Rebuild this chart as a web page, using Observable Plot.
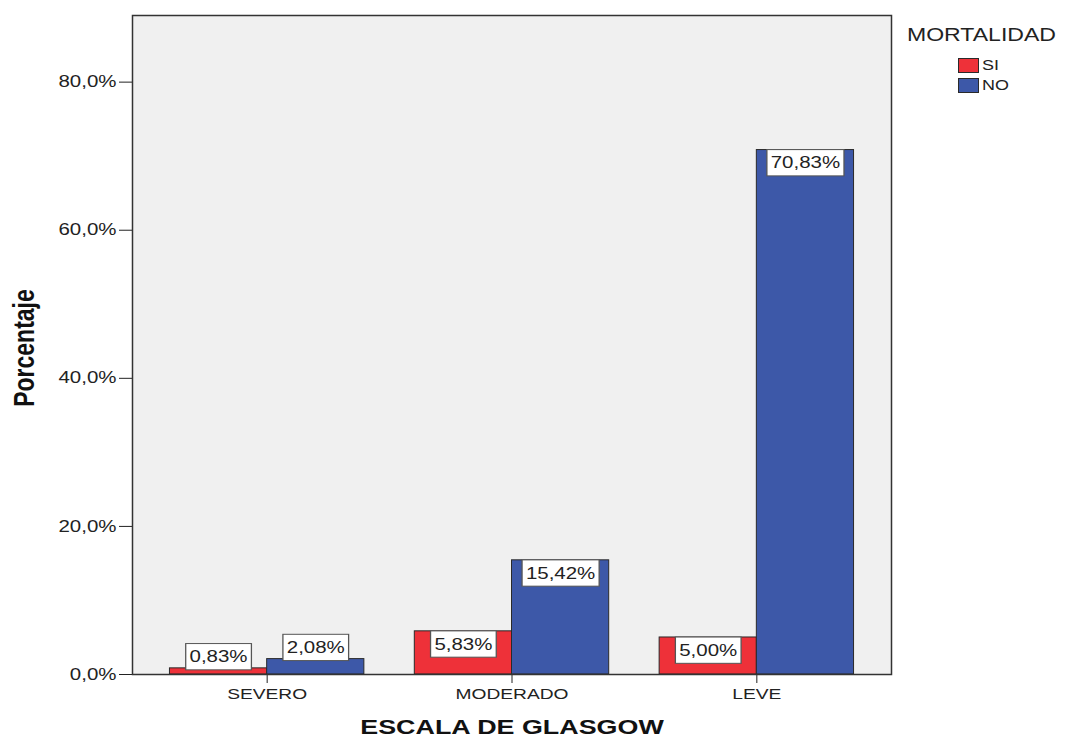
<!DOCTYPE html>
<html>
<head>
<meta charset="utf-8">
<script src="https://cdn.jsdelivr.net/npm/d3@7"></script>
<script src="https://cdn.jsdelivr.net/npm/@observablehq/plot@0.6"></script>
<style>
  body { margin: 0; background: #fff; }
  #chart { position: relative; width: 1067px; height: 738px; font-family: "Liberation Sans", Arial, sans-serif; color: #222; }
  #legend { position: absolute; left: 907px; top: 24px; width: 160px; height: 80px; }
  .wide { display: inline-block; transform: scaleX(1.28); transform-origin: 0 50%; white-space: nowrap; }
  #legend .title { position: absolute; left: 0; top: 0; font-size: 18px; line-height: 22px; }
  #legend .item { position: absolute; left: 51px; height: 16px; }
  #legend .swatch { position: absolute; left: 0; top: 0; width: 19px; height: 13px; border: 1px solid #2a2a2a; }
  #legend .name { position: absolute; left: 24px; top: -1px; font-size: 14px; line-height: 16px; }
</style>
</head>
<body>
<div id="chart"><div id="legend"></div></div>
<script>
// Glasgow coma scale groups and mortality percentages
const categories = ["SEVERO", "MODERADO", "LEVE"];
const series = ["SI", "NO"];
const siValues = [0.83, 5.83, 5.00];
const noValues = [2.08, 15.42, 70.83];
const yTicks = [0, 20, 40, 60, 80];
const seriesColors = ["#ee3139", "#3d58a8"];

const rows = categories.flatMap((cat, i) => [
  {cat, serie: "SI", value: siValues[i]},
  {cat, serie: "NO", value: noValues[i]}
]);

const W = 1067, H = 738;
const marginLeft = 132, marginRight = 176, marginTop = 15, marginBottom = 64;
const paddingInner = 0.206, paddingOuter = 0.153;
const step = (W - marginLeft - marginRight) / (categories.length - paddingInner + 2 * paddingOuter);
const half = step * (1 - paddingInner) / 2;   // width of one bar within a group
const STRETCH = 1.28;                          // horizontal widening of all text
const INSIDE_MIN = 4;                          // labels go inside bars taller than this

const pct = v => v.toFixed(2).replace(".", ",") + "%";
const isValueLabel = s => /^\d+,\d\d%$/.test(s);
const barOpts = {x: "cat", y: "value", fill: "serie", stroke: "#2a2a2a", strokeWidth: 1};

function labelMark(serie, inside) {
  return Plot.text(
    rows.filter(d => d.serie === serie && (d.value >= INSIDE_MIN) === inside),
    {
      x: "cat", y: "value", text: d => pct(d.value),
      dx: (serie === "SI" ? -1 : 1) * half / 2,
      dy: inside ? 7 : -6,
      lineAnchor: inside ? "top" : "bottom",
      fill: "#222", fontSize: 16
    }
  );
}

const svg = Plot.plot({
  width: W, height: H,
  marginLeft, marginRight, marginTop, marginBottom,
  style: {fontFamily: "'Liberation Sans', Arial, sans-serif", fontSize: "16px", color: "#222", background: "#fff", overflow: "visible"},
  x: {domain: categories, paddingInner, paddingOuter, round: false, tickSize: 9, tickPadding: 5, label: null},
  y: {domain: [0, 89], ticks: yTicks, tickSize: 13, tickPadding: 3, label: null,
      tickFormat: d => d.toFixed(1).replace(".", ",") + "%"},
  color: {domain: series, range: seriesColors},
  marks: [
    Plot.frame({fill: "#f0f0f0", stroke: "none"}),
    Plot.barY(rows.filter(d => d.serie === "SI"), {...barOpts, insetRight: half}),
    Plot.barY(rows.filter(d => d.serie === "NO"), {...barOpts, insetLeft: half}),
    Plot.frame({stroke: "#333", strokeWidth: 1.5}),
    labelMark("SI", true), labelMark("SI", false),
    labelMark("NO", true), labelMark("NO", false),
    Plot.text(["Porcentaje"], {text: d => d, frameAnchor: "left", textAnchor: "middle", lineAnchor: "middle",
      dx: -108, dy: 3, rotate: -90, fontSize: 23, fontWeight: "bold", fill: "#111"}),
    Plot.text(["ESCALA DE GLASGOW"], {text: d => d, frameAnchor: "bottom", textAnchor: "middle", lineAnchor: "middle",
      dy: 53, fontSize: 21, fontWeight: "bold", fill: "#111"})
  ]
});

const chart = document.getElementById("chart");
chart.insertBefore(svg, chart.firstChild);

// category labels are a little smaller than the other tick labels
svg.querySelectorAll("text").forEach(t => {
  if (categories.includes(t.textContent)) t.setAttribute("font-size", "15px");
});

// widen every text horizontally around its anchor point
svg.querySelectorAll("text").forEach(el => {
  const t = el.getAttribute("transform") || "";
  const m = t.match(/translate\(\s*([-\d.e]+)/);
  const px = (m ? +m[1] : 0) + (+el.getAttribute("x") || 0);
  el.setAttribute("transform", `translate(${px},0) scale(${STRETCH},1) translate(${-px},0) ${t}`);
});

// white boxes behind the value labels
const NS = "http://www.w3.org/2000/svg";
Array.from(svg.querySelectorAll("text")).filter(el => isValueLabel(el.textContent)).forEach(el => {
  const bb = el.getBBox();
  const padX = 3, padY = 4;
  const r = document.createElementNS(NS, "rect");
  r.setAttribute("x", bb.x - padX);
  r.setAttribute("y", bb.y - padY);
  r.setAttribute("width", bb.width + 2 * padX);
  r.setAttribute("height", bb.height + 2 * padY);
  const t = el.getAttribute("transform");
  if (t) r.setAttribute("transform", t);
  r.setAttribute("fill", "#fff");
  r.setAttribute("stroke", "#555");
  r.setAttribute("stroke-width", 1);
  el.parentNode.insertBefore(r, el);
});

// legend built from the color scale
const color = svg.scale("color");
const legend = document.getElementById("legend");
legend.innerHTML = `<div class="title"><span class="wide">MORTALIDAD</span></div>` +
  color.domain.map((s, i) =>
    `<div class="item" style="top:${34 + i * 20}px"><div class="swatch" style="background:${color.range[i]}"></div>` +
    `<div class="name"><span class="wide">${s}</span></div></div>`).join("");
</script>
</body>
</html>
